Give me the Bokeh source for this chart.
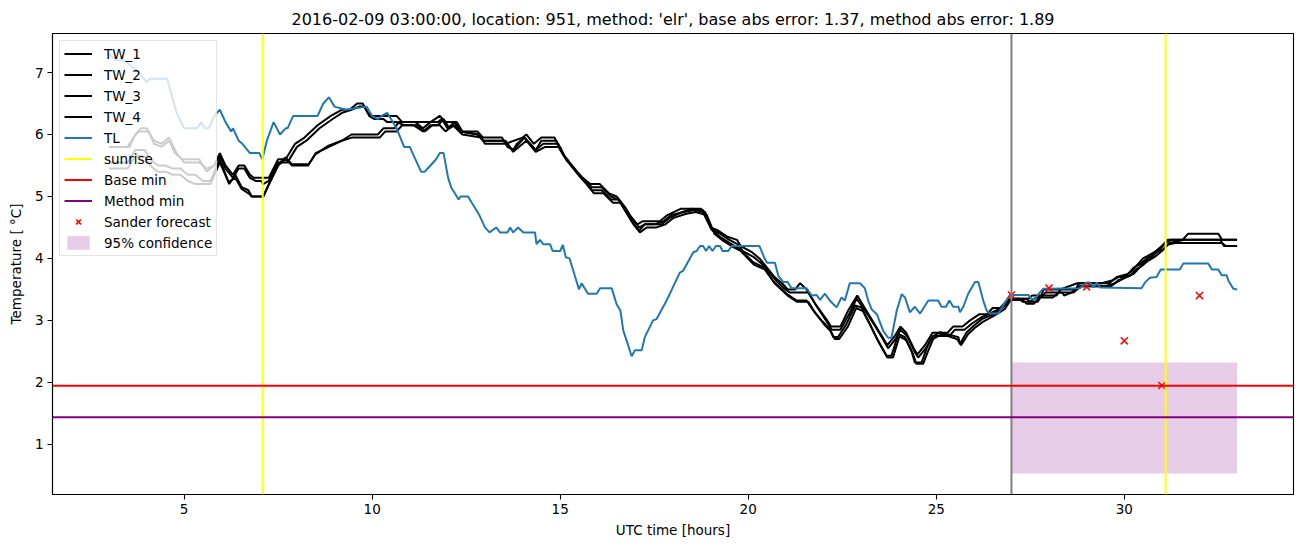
import math
from bokeh.plotting import figure
from bokeh.models import (ColumnDataSource, Range1d, Span, Legend, LegendItem,
                          FixedTicker)
from bokeh.embed import file_html
from bokeh.resources import INLINE

# ---------------- data ----------------
tl_x = [3.0, 3.2, 3.4, 3.6, 3.8, 4.0, 4.1, 4.55, 4.8, 5.0, 5.35, 5.45, 5.55, 5.65, 5.8, 5.95,
        6.1, 6.25, 6.3, 6.45, 6.55, 6.75, 7.0, 7.08, 7.2, 7.38, 7.55, 7.7, 7.75, 7.9, 8.55, 8.7,
        8.85, 9.0, 9.3, 9.85, 10.0, 10.15, 10.25, 10.4, 10.65, 10.85, 11.0, 11.3, 11.4, 11.55,
        11.7, 11.8, 11.9, 12.02, 12.1, 12.3, 12.35, 12.55, 12.65, 12.85, 13.0, 13.12, 13.3, 13.4,
        13.6, 13.67, 13.75, 13.88, 14.02, 14.33, 14.37, 14.46, 14.55, 14.73, 14.8, 15.0, 15.07,
        15.15, 15.25, 15.45, 15.5, 15.57, 15.74, 15.97, 16.06, 16.37, 16.5, 16.6, 16.68, 16.77,
        16.9, 16.99, 17.17, 17.25, 17.47, 17.56, 17.83, 18.18, 18.27, 18.54, 18.63, 18.72, 18.8,
        18.88, 18.96, 19.05, 19.14, 19.25, 19.32, 19.47, 19.56, 20.3, 20.42, 20.5, 20.71, 20.8,
        20.93, 21.05, 21.15, 21.55, 21.69, 21.82, 21.91, 22.04, 22.17, 22.35, 22.48, 22.57, 22.7,
        22.97, 23.1, 23.19, 23.28, 23.42, 23.59, 23.72, 23.81, 23.95, 24.08, 24.17, 24.3, 24.43,
        24.57, 24.79, 25.05, 25.14, 25.26, 25.35, 25.45, 25.59, 25.63, 25.72, 25.85, 26.03,
        26.12, 26.25, 26.34, 26.43, 26.65, 26.78, 26.87, 26.96, 27.45, 27.54, 27.62, 27.7, 27.84,
        28.82, 29.0, 29.09, 29.18, 29.27, 29.35, 30.46, 30.55, 30.68, 30.86, 30.97, 31.48, 31.57,
        32.23, 32.33, 32.5, 32.59, 32.72, 32.77, 32.9, 33.0]
tl_y = [7.3, 7.2, 7.2, 7.1, 7.0, 6.85, 6.9, 6.9, 6.35, 6.1, 6.1, 6.2, 6.1, 6.1, 6.3, 6.4,
        6.2, 6.05, 6.1, 5.9, 5.85, 5.7, 5.7, 5.6, 5.9, 6.2, 6.0, 6.1, 6.1, 6.3, 6.3, 6.5,
        6.6, 6.45, 6.4, 6.45, 6.3, 6.25, 6.3, 6.35, 6.1, 5.8, 5.8, 5.4, 5.4, 5.5,
        5.6, 5.7, 5.7, 5.3, 5.15, 4.95, 5.0, 5.0, 4.9, 4.7, 4.5, 4.42, 4.5, 4.42,
        4.42, 4.5, 4.42, 4.5, 4.42, 4.42, 4.23, 4.3, 4.23, 4.23, 4.12, 4.12, 4.22,
        4.02, 4.0, 3.6, 3.5, 3.6, 3.43, 3.43, 3.52, 3.52, 3.26, 3.16, 2.83, 2.67,
        2.42, 2.52, 2.52, 2.73, 3.0, 3.02, 3.32, 3.77, 3.8, 4.1, 4.12, 4.2, 4.2,
        4.12, 4.2, 4.12, 4.2, 4.2, 4.12, 4.12, 4.2, 4.2, 4.02, 3.93, 3.93, 3.72,
        3.62, 3.62, 3.52, 3.52, 3.40, 3.41, 3.33, 3.43, 3.32, 3.21, 3.37, 3.32, 3.6,
        3.6, 3.52, 3.32, 3.18, 3.1, 2.83, 2.72, 2.72, 3.16, 3.42, 3.37, 3.13, 3.22,
        3.11, 3.32, 3.32, 3.22, 3.22, 3.32, 3.22, 3.22, 3.13, 3.22, 3.43, 3.62,
        3.62, 3.32, 3.16, 3.11, 3.11, 3.24, 3.33, 3.41, 3.41, 3.34, 3.34, 3.41, 3.51,
        3.52, 3.61, 3.61, 3.53, 3.61, 3.53, 3.52, 3.61, 3.69, 3.7, 3.82, 3.82, 3.92,
        3.92, 3.82, 3.82, 3.73, 3.73, 3.64, 3.51, 3.5]

tw1_x = [3.0, 3.5, 3.65, 3.8, 4.05, 4.2, 4.4, 4.6, 4.75, 4.95, 5.4, 5.6, 5.8, 5.95, 6.1, 6.3,
         6.45, 6.6, 6.75, 6.85, 7.25, 7.5, 7.7, 7.95, 8.2, 8.55, 8.9, 9.2, 9.4, 9.6, 9.75, 9.88,
         10.0, 10.65, 10.8, 11.15, 11.35, 11.55, 11.8, 11.95, 12.1, 12.25, 12.4, 12.8, 12.95,
         13.45, 13.55, 14.0, 14.1, 14.3, 14.5, 14.85, 15.0, 15.25, 15.45, 15.6, 15.8, 16.05,
         16.3, 16.5, 16.7, 16.85, 17.05, 17.2, 17.65, 17.85, 18.2, 18.75, 19.0, 19.2, 19.45,
         19.7, 19.8, 20.1, 20.3, 20.5, 20.7, 20.9, 21.05, 21.25, 21.38, 21.55, 21.8, 22.1, 22.2,
         22.45, 22.65, 22.9, 23.1, 23.35, 23.55, 23.7, 23.9, 24.05, 24.2, 24.4, 24.5, 24.7,
         24.9, 25.3, 25.45, 25.7, 25.9, 26.15, 26.35, 26.5, 26.7, 26.85, 27.0, 27.45, 27.55,
         27.8, 27.85, 28.3, 28.75, 29.4, 29.7, 29.85, 30.0, 30.2, 30.35, 30.5, 30.65, 30.8,
         31.0, 31.15, 31.55, 31.7, 32.5, 32.6, 33.0]
tw1_y = [5.8, 5.8, 5.95, 6.05, 6.05, 5.85, 5.8, 5.9, 5.7, 5.6, 5.6, 5.4, 5.5, 5.7, 5.5, 5.35,
         5.5, 5.5, 5.35, 5.3, 5.3, 5.6, 5.6, 5.85, 5.95, 6.15, 6.3, 6.4, 6.4, 6.5, 6.5, 6.35,
         6.3, 6.3, 6.2, 6.2, 6.2, 6.2, 6.3, 6.2, 6.2, 6.2, 6.05, 6.05, 5.95,
         5.95, 5.85, 5.95, 6.0, 5.85, 5.95, 5.95, 5.75, 5.55, 5.4, 5.3, 5.2, 5.2,
         5.05, 5.0, 4.85, 4.7, 4.55, 4.6, 4.6, 4.7, 4.8, 4.8, 4.5, 4.45, 4.35,
         4.3, 4.2, 4.1, 4.0, 3.85, 3.7, 3.6, 3.5, 3.5, 3.6, 3.5, 3.25, 3.0, 2.9,
         2.9, 3.15, 3.4, 3.2, 2.95, 2.75, 2.6, 2.75, 2.9, 2.8, 2.55, 2.45, 2.6,
         2.8, 2.8, 2.9, 2.9, 3.0, 3.1, 3.1, 3.2, 3.2, 3.3, 3.35, 3.35, 3.4,
         3.4, 3.5, 3.5, 3.6, 3.6, 3.65, 3.7, 3.7, 3.8, 3.9, 4.0, 4.05, 4.1,
         4.2, 4.3, 4.3, 4.4, 4.4, 4.3, 4.3]

tw2_x = [3.0, 3.55, 3.7, 3.85, 4.0, 4.2, 4.4, 4.6, 4.8, 5.0, 5.4, 5.6, 5.8, 5.95, 6.1, 6.3,
         6.45, 6.6, 6.75, 6.9, 7.05, 7.1, 7.25, 7.5, 7.75, 8.0, 8.25, 8.6, 8.95, 9.2, 9.45,
         9.65, 9.8, 9.92, 10.05, 10.3, 10.4, 10.65, 10.85, 11.1, 11.35, 11.55, 11.75, 11.9,
         12.05, 12.2, 12.35, 12.8, 12.95, 13.5, 13.6, 13.75, 14.05, 14.35, 14.5, 14.9, 15.05,
         15.3, 15.5, 15.65, 15.85, 16.1, 16.35, 16.55, 16.75, 16.9, 17.1, 17.25, 17.45, 17.7,
         17.9, 18.25, 18.5, 18.8, 19.02, 19.25, 19.5, 19.75, 19.85, 20.15, 20.35, 20.55,
         20.75, 20.95, 21.1, 21.4, 21.6, 21.85, 22.12, 22.22, 22.45, 22.68, 22.88, 23.12,
         23.38, 23.58, 23.72, 23.92, 24.05, 24.22, 24.42, 24.52, 24.72, 24.92, 25.35, 25.5,
         25.75, 25.95, 26.2, 26.4, 26.55, 26.75, 26.9, 27.0, 27.2, 27.3, 27.5, 27.6, 27.85,
         27.9, 28.35, 28.4, 28.6, 28.8, 29.5, 29.75, 29.9, 30.05, 30.25, 30.4, 30.55, 30.7,
         30.85, 31.05, 31.2, 31.6, 32.55, 32.65, 33.0]
tw2_y = [5.8, 5.8, 6.0, 6.1, 6.1, 5.9, 5.85, 5.95, 5.7, 5.55, 5.55, 5.45, 5.5, 5.65, 5.45, 5.3,
         5.45, 5.45, 5.3, 5.25, 5.25, 5.2, 5.25, 5.55, 5.55, 5.8, 5.9, 6.1, 6.25, 6.35, 6.4,
         6.45, 6.45, 6.3, 6.25, 6.25, 6.2, 6.2, 6.15, 6.15, 6.05, 6.15, 6.15, 6.25,
         6.1, 6.15, 6.05, 6.0, 5.9, 5.9, 5.8, 5.75, 5.95, 5.75, 5.9, 5.9, 5.7,
         5.5, 5.35, 5.25, 5.15, 5.15, 5.0, 4.95, 4.8, 4.65, 4.5, 4.55, 4.55, 4.55,
         4.65, 4.75, 4.8, 4.78, 4.47, 4.4, 4.3, 4.22, 4.12, 4.02, 3.92, 3.78,
         3.64, 3.52, 3.45, 3.45, 3.45, 3.2, 2.95, 2.85, 2.85, 3.1, 3.35, 3.15,
         2.9, 2.7, 2.55, 2.7, 2.85, 2.75, 2.5, 2.4, 2.55, 2.75, 2.75, 2.85,
         2.85, 2.95, 3.05, 3.1, 3.15, 3.2, 3.3, 3.35, 3.35, 3.3, 3.3, 3.35, 3.4,
         3.45, 3.45, 3.4, 3.45, 3.55, 3.55, 3.6, 3.65, 3.7, 3.75, 3.85, 3.95, 4.0,
         4.1, 4.15, 4.25, 4.3, 4.3, 4.2, 4.2]

tw3_x = [3.0, 3.5, 3.7, 3.95, 4.1, 4.3, 4.5, 4.7, 4.9, 5.1, 5.3, 5.5, 5.7, 5.95, 6.2, 6.36,
         6.53, 6.71, 6.8, 7.1, 7.3, 7.5, 7.7, 7.87, 8.3, 8.5, 8.85, 9.2, 9.45, 10.15, 10.3,
         10.6, 10.7, 11.0, 11.15, 11.35, 11.55, 11.75, 11.85, 12.0, 12.2, 12.35, 12.85, 12.95,
         13.55, 13.65, 13.75, 13.85, 14.05, 14.35, 14.55, 14.95, 15.1, 15.3, 15.5, 15.65,
         15.85, 16.1, 16.35, 16.55, 16.75, 16.9, 17.1, 17.25, 17.5, 17.75, 17.95, 18.3, 18.55,
         18.85, 19.05, 19.25, 19.5, 19.78, 20.13, 20.4, 20.66, 21.02, 21.29, 21.55, 21.73,
         21.95, 22.17, 22.26, 22.39, 22.61, 22.84, 23.01, 23.23, 23.45, 23.68, 23.81, 23.99,
         24.17, 24.34, 24.43, 24.61, 24.74, 24.88, 25.1, 25.59, 25.63, 25.81, 25.99, 26.21,
         26.52, 26.78, 26.92, 27.0, 27.4, 27.5, 27.7, 27.8, 28.2, 28.3, 28.7, 28.8, 29.6,
         29.8, 30.1, 30.25, 30.4, 30.6, 30.75, 30.95, 31.1, 31.25, 32.6, 33.0]
tw3_y = [5.55, 5.55, 5.75, 5.75, 5.6, 5.5, 5.5, 5.45, 5.45, 5.35, 5.35, 5.25, 5.25, 5.6, 5.2, 5.35,
         5.15, 5.1, 5.0, 5.0, 5.25, 5.5, 5.6, 5.5, 5.5, 5.7, 5.8, 5.9, 6.0, 6.0, 6.1,
         6.1, 6.2, 6.2, 6.2, 6.1, 6.2, 6.2, 6.25, 6.1, 6.2, 6.05, 6.0, 5.9,
         5.9, 5.8, 5.75, 5.85, 5.95, 5.75, 5.85, 5.85, 5.65, 5.5, 5.35, 5.25,
         5.1, 5.1, 4.95, 4.95, 4.75, 4.6, 4.45, 4.55, 4.55, 4.6, 4.7, 4.75, 4.78,
         4.75, 4.45, 4.35, 4.25, 4.15, 3.94, 3.86, 3.64, 3.43, 3.32, 3.32, 3.16,
         3.0, 2.86, 2.73, 2.73, 2.94, 3.24, 3.21, 2.94, 2.67, 2.43, 2.43, 2.78,
         2.73, 2.51, 2.32, 2.32, 2.54, 2.73, 2.81, 2.73, 2.62, 2.81, 2.91, 3.02,
         3.1, 3.21, 3.32, 3.35, 3.35, 3.3, 3.3, 3.4, 3.4, 3.5, 3.5, 3.6, 3.6,
         3.7, 3.75, 3.85, 3.9, 4.0, 4.05, 4.15, 4.25, 4.3, 4.3, 4.3]

tw4_x = [3.0, 3.5, 3.7, 3.95, 4.1, 4.3, 4.5, 4.7, 4.9, 5.1, 5.3, 5.5, 5.7, 5.95, 6.18, 6.36,
         6.53, 6.71, 6.8, 7.11, 7.29, 7.51, 7.69, 7.87, 8.31, 8.49, 8.84, 9.19, 9.46, 10.2,
         10.35, 10.65, 10.8, 11.2, 11.4, 11.6, 11.8, 11.95, 12.15, 12.4, 12.9, 13.0, 13.6,
         13.75, 14.1, 14.35, 14.6, 15.0, 15.15, 15.35, 15.55, 15.7, 15.9, 16.15, 16.4, 16.6,
         16.8, 16.95, 17.12, 17.3, 17.55, 17.8, 18.0, 18.35, 18.6, 18.9, 19.1, 19.3, 19.55,
         19.8, 20.15, 20.45, 20.7, 21.05, 21.3, 21.6, 21.78, 22.0, 22.2, 22.3, 22.42, 22.65,
         22.87, 23.05, 23.27, 23.5, 23.7, 23.85, 24.02, 24.2, 24.38, 24.47, 24.65, 24.78,
         24.92, 25.15, 25.55, 25.66, 25.85, 26.03, 26.25, 26.55, 26.82, 26.95, 27.0, 27.3,
         27.4, 27.6, 27.75, 28.1, 28.25, 28.65, 28.85, 29.65, 29.85, 30.15, 30.3, 30.45,
         30.65, 30.8, 31.0, 31.15, 31.35, 32.6, 32.7, 33.0]
tw4_y = [5.45, 5.45, 5.65, 5.65, 5.5, 5.4, 5.4, 5.35, 5.35, 5.25, 5.2, 5.2, 5.2, 5.55, 5.23, 5.3,
         5.12, 5.05, 5.0, 5.0, 5.25, 5.52, 5.63, 5.52, 5.52, 5.68, 5.82, 5.9, 5.95, 5.95,
         6.05, 6.05, 6.15, 6.15, 6.05, 6.15, 6.15, 6.05, 6.15, 6.0, 5.95, 5.85, 5.85,
         5.72, 5.9, 5.72, 5.8, 5.8, 5.6, 5.45, 5.3, 5.2, 5.05, 5.05, 4.9, 4.9,
         4.7, 4.55, 4.42, 4.5, 4.5, 4.55, 4.65, 4.72, 4.75, 4.7, 4.4, 4.3, 4.2,
         4.12, 3.9, 3.82, 3.6, 3.4, 3.3, 3.3, 3.12, 2.95, 2.82, 2.7, 2.7, 2.9,
         3.2, 3.15, 2.9, 2.62, 2.4, 2.4, 2.74, 2.68, 2.46, 2.3, 2.3, 2.5,
         2.7, 2.78, 2.7, 2.6, 2.78, 2.88, 2.98, 3.08, 3.18, 3.3, 3.33, 3.33,
         3.27, 3.27, 3.37, 3.37, 3.45, 3.45, 3.55, 3.55, 3.65, 3.72, 3.82, 3.87,
         3.97, 4.02, 4.12, 4.22, 4.25, 4.25, 4.2, 4.2]

sunrise_hours = [7.09, 31.1]
forecast_hour = [27.0]
base_min = [1.945]
method_min = [1.435]
sander_x = [27, 28, 29, 30, 31, 32]
sander_y = [3.41, 3.52, 3.54, 2.67, 1.95, 3.40]
conf_left = [27.0]
conf_right = [33.0]
conf_low = [0.53]
conf_high = [2.32]

title = ("2016-02-09 03:00:00, location: 951, method: 'elr', "
         "base abs error: 1.37, method abs error: 1.89")

FONT = "DejaVu Sans"

# ---------------- figure ----------------
p = figure(width=1302, height=547, output_backend="svg", toolbar_location=None,
           x_range=Range1d(1.5, 34.5), y_range=Range1d(0.19, 7.63),
           min_border_left=52, min_border_right=9, min_border_top=33, min_border_bottom=53)
p.title.text = title
p.title.align = "center"
p.title.text_font = FONT
p.title.text_font_size = "16px"
p.title.text_font_style = "normal"
p.title.text_color = "black"

p.xgrid.visible = False
p.ygrid.visible = False
p.outline_line_color = "black"
p.outline_line_width = 1.1
p.outline_line_alpha = 1

for ax in (p.xaxis[0], p.yaxis[0]):
    ax.major_label_text_font = FONT
    ax.major_label_text_font_size = "13.5px"
    ax.major_label_text_color = "black"
    ax.axis_label_text_font = FONT
    ax.axis_label_text_font_size = "13.5px"
    ax.axis_label_text_font_style = "normal"
    ax.axis_label_text_color = "black"
    ax.major_tick_in = 0
    ax.major_tick_out = 5
    ax.minor_tick_in = 0
    ax.minor_tick_out = 0
    ax.axis_line_color = "black"
    ax.axis_line_width = 1.1
    ax.major_tick_line_color = "black"
    ax.major_tick_line_width = 1.1
    ax.major_label_standoff = 4

p.xaxis[0].ticker = FixedTicker(ticks=[5, 10, 15, 20, 25, 30])
p.yaxis[0].ticker = FixedTicker(ticks=[1, 2, 3, 4, 5, 6, 7])
p.xaxis[0].axis_label = "UTC time [hours]"
p.yaxis[0].axis_label = "Temperature [ °C]"
p.xaxis[0].axis_label_standoff = 5
p.yaxis[0].axis_label_standoff = 8

# confidence band
conf_src = ColumnDataSource(dict(left=conf_left, right=conf_right, bottom=conf_low, top=conf_high))
r_conf = p.quad(left="left", right="right", bottom="bottom", top="top", source=conf_src,
                fill_color="purple", fill_alpha=0.2, line_color=None)

# TW lines
tw_rs = []
for xs, ys in ((tw1_x, tw1_y), (tw2_x, tw2_y), (tw3_x, tw3_y), (tw4_x, tw4_y)):
    tw_rs.append(p.line(xs, ys, line_color="black", line_width=2))

r_tl = p.line(tl_x, tl_y, line_color="#1f77b4", line_width=2)

# spans
p.add_layout(Span(location=forecast_hour[0], dimension="height", line_color="grey", line_width=2))
for s in sunrise_hours:
    p.add_layout(Span(location=s, dimension="height", line_color="yellow", line_width=2))
p.add_layout(Span(location=base_min[0], dimension="width", line_color="red", line_width=2))
p.add_layout(Span(location=method_min[0], dimension="width", line_color="purple", line_width=2))

# dummy renderers for legend entries of spans
nan = float("nan")
r_sun = p.line([nan], [nan], line_color="yellow", line_width=2)
r_base = p.line([nan], [nan], line_color="red", line_width=2)
r_meth = p.line([nan], [nan], line_color="purple", line_width=2)

r_sander = p.scatter(sander_x, sander_y, marker="x", size=10, line_color="red", line_width=1.5)

legend = Legend(items=[
    LegendItem(label="TW_1", renderers=[tw_rs[0]]),
    LegendItem(label="TW_2", renderers=[tw_rs[1]]),
    LegendItem(label="TW_3", renderers=[tw_rs[2]]),
    LegendItem(label="TW_4", renderers=[tw_rs[3]]),
    LegendItem(label="TL", renderers=[r_tl]),
    LegendItem(label="sunrise", renderers=[r_sun]),
    LegendItem(label="Base min", renderers=[r_base]),
    LegendItem(label="Method min", renderers=[r_meth]),
    LegendItem(label="Sander forecast", renderers=[r_sander]),
    LegendItem(label="95% confidence", renderers=[r_conf]),
], location="top_left")
legend.label_text_font = FONT
legend.label_text_font_size = "13.5px"
legend.label_text_color = "black"
legend.margin = 7
legend.padding = 4
legend.spacing = 4
legend.glyph_width = 28
legend.glyph_height = 17
legend.label_height = 17
legend.label_standoff = 12
legend.border_line_color = "#cccccc"
legend.border_line_width = 1
legend.background_fill_alpha = 0.8
p.add_layout(legend, "center")

open("out.html", "w").write(file_html(p, INLINE))
